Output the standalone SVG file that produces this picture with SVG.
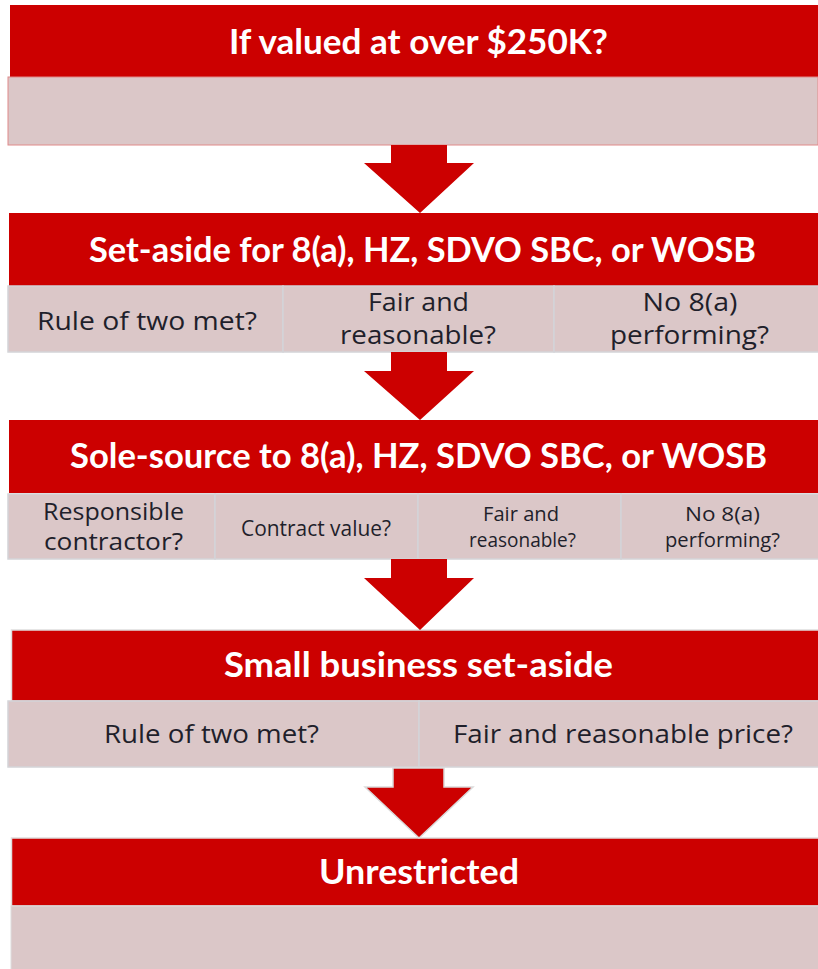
<svg xmlns="http://www.w3.org/2000/svg" width="818" height="969" viewBox="0 0 818 969">
<style>
.hdr{fill:#cc0000}
.cell{fill:#dbc7c8;stroke:#d4d4d8;stroke-width:1.5}
.ht{font-family:Lato,"Open Sans","Liberation Sans",sans-serif;font-weight:700;font-size:34px;fill:#ffffff;text-anchor:middle}
.ct{font-family:"Open Sans","Liberation Sans",sans-serif;fill:#1f1f2b;text-anchor:middle}
.arrow{fill:#cc0000}
.arrow2{fill:#cc0000;stroke:#dadada;stroke-width:1.5}
</style>
<rect width="818" height="969" fill="#ffffff"/>

<g id="node-over250k">
<rect class="hdr" x="10" y="5" width="808" height="72"/>
<rect x="8" y="77" width="810" height="68" fill="#dbc7c8" stroke="#e08a8a" stroke-width="1"/>
<text class="ht" x="418.5" y="54" textLength="379" lengthAdjust="spacingAndGlyphs">If valued at over $250K?</text>
</g>

<g id="node-setaside">
<rect class="hdr" x="9" y="213" width="809" height="73"/>
<text class="ht" x="422.5" y="262" textLength="667" lengthAdjust="spacingAndGlyphs">Set-aside for 8(a), HZ, SDVO SBC, or WOSB</text>
<rect class="cell" x="8" y="286" width="275" height="66"/>
<rect class="cell" x="283" y="286" width="271" height="66"/>
<rect class="cell" x="554" y="286" width="266" height="66"/>
<text class="ct" font-size="26" x="147" y="330" textLength="220" lengthAdjust="spacingAndGlyphs">Rule of two met?</text>
<text class="ct" font-size="26" x="418.5" y="311" textLength="101" lengthAdjust="spacingAndGlyphs">Fair and</text>
<text class="ct" font-size="26" x="418" y="344" textLength="156" lengthAdjust="spacingAndGlyphs">reasonable?</text>
<text class="ct" font-size="26" x="690" y="311" textLength="95" lengthAdjust="spacingAndGlyphs">No 8(a)</text>
<text class="ct" font-size="26" x="689.5" y="344" textLength="159" lengthAdjust="spacingAndGlyphs">performing?</text>
</g>

<g id="node-solesource">
<rect class="hdr" x="9" y="420" width="809" height="73"/>
<text class="ht" x="418.5" y="468" textLength="697" lengthAdjust="spacingAndGlyphs">Sole-source to 8(a), HZ, SDVO SBC, or WOSB</text>
<rect class="cell" x="8" y="494" width="207" height="65"/>
<rect class="cell" x="215" y="494" width="203" height="65"/>
<rect class="cell" x="418" y="494" width="203" height="65"/>
<rect class="cell" x="621" y="494" width="199" height="65"/>
<text class="ct" font-size="24" x="113.5" y="520" textLength="141" lengthAdjust="spacingAndGlyphs">Responsible</text>
<text class="ct" font-size="24" x="113.5" y="550" textLength="139" lengthAdjust="spacingAndGlyphs">contractor?</text>
<text class="ct" font-size="21" x="316" y="536" textLength="150" lengthAdjust="spacingAndGlyphs">Contract value?</text>
<text class="ct" font-size="19.5" x="521" y="521" textLength="76" lengthAdjust="spacingAndGlyphs">Fair and</text>
<text class="ct" font-size="19.5" x="522.5" y="547" textLength="107" lengthAdjust="spacingAndGlyphs">reasonable?</text>
<text class="ct" font-size="19.5" x="722.5" y="521" textLength="75" lengthAdjust="spacingAndGlyphs">No 8(a)</text>
<text class="ct" font-size="19.5" x="722.5" y="547" textLength="115" lengthAdjust="spacingAndGlyphs">performing?</text>
</g>

<g id="node-smallbusiness">
<rect class="hdr" x="11.5" y="630" width="808" height="71" stroke="#dedede" stroke-width="1.5"/>
<text class="ht" x="418.5" y="677" textLength="389" lengthAdjust="spacingAndGlyphs">Small business set-aside</text>
<rect class="cell" x="8" y="701" width="411" height="66"/>
<rect class="cell" x="419" y="701" width="401" height="66"/>
<text class="ct" font-size="26" x="211.5" y="743" textLength="215" lengthAdjust="spacingAndGlyphs">Rule of two met?</text>
<text class="ct" font-size="26" x="623" y="743" textLength="340" lengthAdjust="spacingAndGlyphs">Fair and reasonable price?</text>
</g>

<g id="node-unrestricted">
<rect class="hdr" x="11.5" y="838" width="808" height="68" stroke="#dedede" stroke-width="1.5"/>
<rect x="11" y="906" width="809" height="65" fill="#dbc7c8" stroke="#dedede" stroke-width="1"/>
<text class="ht" x="419" y="884" textLength="200" lengthAdjust="spacingAndGlyphs">Unrestricted</text>
</g>

<g id="connectors">
<polygon class="arrow" points="391,145 447,145 447,163 474,163 420,213 364,163 391,163"/>
<polygon class="arrow" points="391,352 447,352 447,371 474,371 420,420 364,371 391,371"/>
<polygon class="arrow" points="391,559 447,559 447,578 474,578 420,630 364,578 391,578"/>
<polygon class="arrow2" points="393,768 444,768 444,787 473,787 419,838 365,787 393,787"/>
</g>
</svg>
